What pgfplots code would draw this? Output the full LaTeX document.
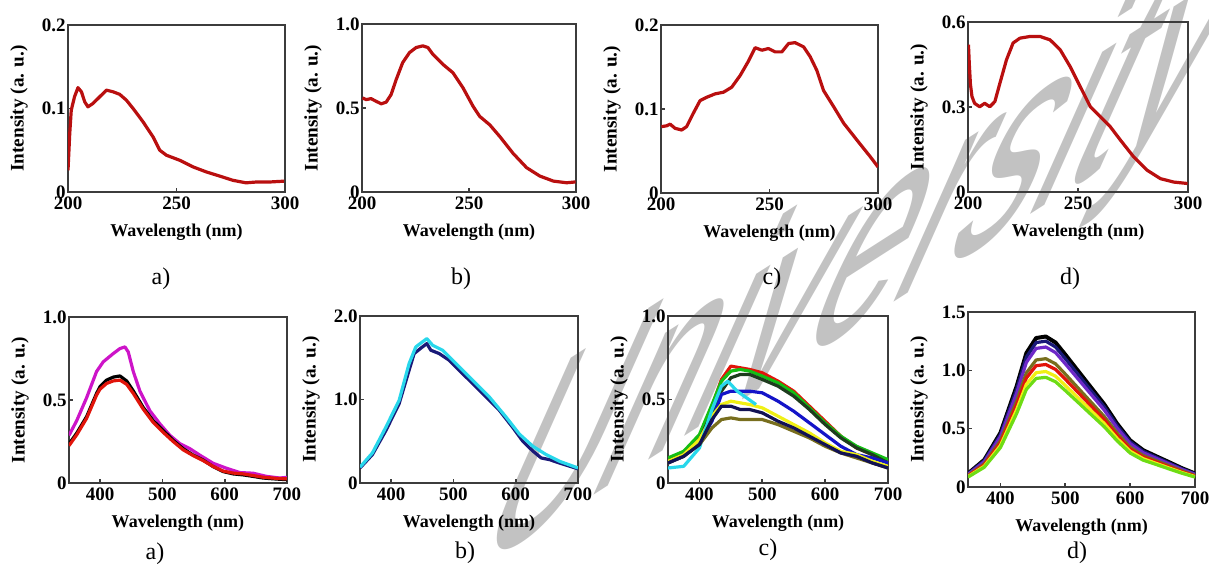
\documentclass[border=0pt]{standalone}
\usepackage{fontspec}
\setmainfont{Liberation Serif}
\newfontfamily\wmfont{Liberation Sans}
\usepackage{pgfplots}
\pgfplotsset{compat=1.18}
\definecolor{cred}{RGB}{185,15,15}
\definecolor{frame}{RGB}{60,60,60}
\definecolor{cmag}{RGB}{205,20,200}
\definecolor{cnavy}{RGB}{25,25,120}
\definecolor{ccyan}{RGB}{40,215,235}
\definecolor{cgreen}{RGB}{20,190,20}
\definecolor{cdkg}{RGB}{30,60,30}
\definecolor{cblue}{RGB}{20,20,200}
\definecolor{cyel}{RGB}{240,240,20}
\definecolor{colive}{RGB}{120,110,30}
\definecolor{cpurp}{RGB}{110,40,200}
\definecolor{cred2}{RGB}{225,20,10}
\definecolor{cgr2}{RGB}{110,220,20}
\pgfplotsset{
  panel/.style={
    scale only axis,
    anchor=north west,
    axis line style={line width=1.2pt, draw=frame},
    tick align=inside,
    major tick length=2pt,
    tick style={line width=0.8pt, draw=frame},
    tick pos=left,
    ticklabel style={font=\fontsize{9.5}{10}\selectfont\bfseries},
    yticklabel style={inner xsep=1pt},
    xticklabel style={inner ysep=2pt},
    xlabel={Wavelength (nm)},
    ylabel={Intensity (a. u.)},
    xlabel style={font=\fontsize{9}{10}\selectfont\bfseries, at={([yshift=-20pt]axis description cs:0.5,0)}, anchor=center},
    ylabel style={font=\fontsize{9.6}{10}\selectfont\bfseries, at={([xshift=-24.5pt]axis description cs:0,0.5)}, anchor=center},
    every axis plot/.append style={line width=1.6pt, line join=round},
  },
  uv/.style={panel, xmin=200, xmax=300, xtick={200,250,300}, xticklabels={200,250,300}, ymin=0},
  pl/.style={panel, xmin=350, xmax=700, xtick={400,500,600,700}, xticklabels={400,500,600,700}, ymin=0},
}
\begin{document}
\begin{tikzpicture}
\path[use as bounding box] (0pt,0pt) rectangle (604.5pt,-285pt);
% watermark
\node[font=\wmfont\fontsize{105}{105}\selectfont, text=black!24, anchor=base west, inner sep=0pt,
      transform shape, cm={0.78,0.50,0.651,1.462,(0,0)}] at (232pt,-289pt) {University};

% ---------- top row ----------
\begin{axis}[uv, at={(34pt,-12.5pt)}, width=108.5pt, height=83.5pt, ymax=0.2, ytick={0,0.1,0.2}, yticklabels={0,0.1,0.2}]
\addplot[cred] coordinates {(200,0.026)(200.8,0.07)(201.5,0.098)(203,0.114)(204.6,0.125)(206.2,0.12)(207.7,0.108)(209.2,0.102)(211.5,0.106)(214.6,0.114)(217.7,0.122)(220.8,0.12)(223.8,0.117)(226.9,0.11)(230,0.1)(234.6,0.084)(239.2,0.066)(242.3,0.05)(245.4,0.044)(251.5,0.038)(257.7,0.03)(263.8,0.024)(270,0.019)(276,0.014)(282,0.011)(286.9,0.012)(293,0.012)(299.6,0.013)};
\end{axis}
\begin{axis}[uv, at={(181pt,-12pt)}, width=107pt, height=84pt, ymax=1.0, ytick={0,0.5,1}, yticklabels={0,0.5,1.0}]
\addplot[cred] coordinates {(200.2,0.56)(202,0.55)(204.2,0.556)(206.6,0.54)(209,0.525)(211.3,0.535)(213.6,0.58)(216,0.67)(219,0.77)(222.2,0.83)(225.3,0.86)(228.4,0.87)(230.8,0.86)(233.1,0.82)(237.8,0.76)(242.5,0.71)(247.2,0.62)(251.9,0.51)(255,0.45)(259.7,0.40)(264.4,0.33)(270.6,0.23)(276.9,0.145)(283.1,0.095)(289.4,0.065)(295.6,0.055)(299.8,0.06)};
\end{axis}
\begin{axis}[uv, at={(330.5pt,-12.5pt)}, width=108.5pt, height=84pt, ymax=0.2, ytick={0,0.1,0.2}, yticklabels={0,0.1,0.2}]
\addplot[cred] coordinates {(200.2,0.079)(202.6,0.08)(204.2,0.082)(206.5,0.077)(209.5,0.075)(211.8,0.079)(214.9,0.095)(218,0.11)(221.1,0.114)(224.9,0.118)(228.8,0.12)(232.6,0.126)(236.5,0.14)(240.3,0.157)(243.4,0.173)(246.5,0.17)(249.5,0.172)(252.6,0.168)(255.7,0.168)(258.8,0.178)(261.8,0.179)(265.7,0.174)(268.8,0.162)(271.8,0.146)(274.9,0.122)(279.5,0.103)(284.2,0.083)(290.3,0.063)(296.5,0.043)(300,0.031)};
\end{axis}
\begin{axis}[uv, at={(484pt,-11pt)}, width=110pt, height=85pt, ymax=0.6, ytick={0,0.3,0.6}, yticklabels={0,0.3,0.6}]
\addplot[cred] coordinates {(200.2,0.52)(200.6,0.45)(201.1,0.38)(201.8,0.337)(203,0.313)(205.3,0.301)(207.6,0.313)(209.9,0.301)(212.2,0.319)(214.5,0.384)(217.5,0.467)(220.5,0.526)(223.6,0.543)(228.2,0.549)(232.7,0.549)(237.3,0.537)(241.9,0.502)(246.4,0.443)(251,0.372)(255.6,0.301)(260.1,0.266)(264.7,0.23)(269.3,0.183)(275.3,0.124)(281.4,0.077)(287.5,0.047)(293.6,0.035)(299.8,0.03)};
\end{axis}

% ---------- bottom row ----------
\begin{axis}[pl, at={(34.5pt,-158.5pt)}, width=109pt, height=83pt, ymax=1.0, ytick={0,0.5,1}, yticklabels={0,0.5,1.0}]
\addplot[cmag] coordinates {(350,0.287)(362.3,0.375)(378.3,0.514)(394.3,0.672)(405,0.73)(421.1,0.78)(431.8,0.81)(439.8,0.82)(445.1,0.79)(453.2,0.672)(463.9,0.553)(479.9,0.435)(496,0.356)(512,0.287)(528,0.237)(544,0.207)(560,0.168)(581.4,0.119)(602.8,0.089)(624.2,0.063)(645.6,0.059)(667,0.04)(688.3,0.03)(700,0.034)};
\addplot[black] coordinates {(350,0.235)(362.3,0.30)(378.3,0.40)(394.3,0.54)(399.7,0.58)(410.4,0.62)(421.1,0.638)(431.8,0.645)(442.5,0.615)(453.2,0.555)(469.2,0.455)(485.2,0.375)(501.3,0.316)(517.3,0.257)(533.3,0.207)(549.4,0.168)(565.4,0.138)(581.4,0.099)(597.5,0.069)(613.5,0.055)(629.5,0.049)(645.6,0.04)(661.6,0.03)(683,0.024)(700,0.02)};
\addplot[cred2] coordinates {(350,0.225)(362.3,0.29)(378.3,0.39)(394.3,0.53)(399.7,0.565)(410.4,0.6)(421.1,0.615)(431.8,0.62)(442.5,0.595)(453.2,0.54)(469.2,0.445)(485.2,0.365)(501.3,0.305)(517.3,0.25)(533.3,0.2)(549.4,0.165)(565.4,0.135)(581.4,0.1)(597.5,0.072)(613.5,0.06)(629.5,0.055)(645.6,0.045)(661.6,0.035)(683,0.028)(700,0.025)};
\end{axis}
\begin{axis}[pl, at={(180pt,-158pt)}, width=109pt, height=83.5pt, ymax=2.0, ytick={0,1,2}, yticklabels={0,1.0,2.0}]
\addplot[cnavy] coordinates {(350,0.18)(369.9,0.34)(391.3,0.625)(412.8,0.95)(428.8,1.35)(436.9,1.55)(450.3,1.63)(457.3,1.67)(463.7,1.59)(477.2,1.55)(493.3,1.47)(509.4,1.35)(530.9,1.19)(552.4,1.03)(573.8,0.87)(595.3,0.665)(611.4,0.5)(627.5,0.383)(640.9,0.30)(654.3,0.28)(670,0.24)(700,0.17)};
\addplot[ccyan] coordinates {(350,0.19)(369.9,0.36)(391.3,0.665)(412.8,0.99)(428.8,1.43)(439.6,1.63)(457.3,1.73)(466.5,1.65)(482.6,1.59)(504,1.43)(530.9,1.23)(557.7,1.03)(584.5,0.79)(606,0.585)(627.5,0.44)(649,0.34)(670.4,0.26)(700,0.18)};
\end{axis}
\begin{axis}[pl, at={(334pt,-158pt)}, width=110pt, height=83.5pt, ymax=1.0, ytick={0,0.5,1}, yticklabels={0,0.5,1.0}]
\addplot[cred2] coordinates {(350,0.14)(375,0.18)(400,0.28)(420,0.46)(435,0.62)(450,0.70)(465,0.69)(480,0.68)(500,0.66)(525,0.61)(550,0.55)(575,0.46)(600,0.37)(625,0.28)(650,0.21)(675,0.17)(700,0.13)};
\addplot[cgreen] coordinates {(350,0.15)(375,0.19)(400,0.29)(420,0.47)(435,0.61)(450,0.67)(465,0.68)(480,0.67)(500,0.64)(525,0.60)(550,0.54)(575,0.45)(600,0.36)(625,0.28)(650,0.22)(675,0.18)(700,0.14)};
\addplot[cdkg] coordinates {(350,0.13)(375,0.17)(400,0.26)(420,0.42)(435,0.55)(450,0.63)(465,0.65)(480,0.65)(500,0.62)(525,0.58)(550,0.52)(575,0.44)(600,0.35)(625,0.27)(650,0.21)(675,0.17)(700,0.12)};
\addplot[cblue] coordinates {(350,0.12)(375,0.16)(400,0.24)(420,0.37)(435,0.53)(450,0.55)(465,0.55)(480,0.55)(500,0.54)(525,0.49)(550,0.43)(575,0.36)(600,0.29)(625,0.22)(650,0.17)(675,0.15)(700,0.12)};
\addplot[cyel] coordinates {(350,0.13)(375,0.17)(400,0.26)(420,0.40)(435,0.47)(450,0.49)(465,0.48)(480,0.47)(500,0.45)(525,0.40)(550,0.35)(575,0.30)(600,0.24)(625,0.19)(650,0.17)(675,0.13)(700,0.10)};
\addplot[ccyan] coordinates {(350,0.09)(375,0.10)(400,0.21)(420,0.44)(435,0.58)(445,0.61)(460,0.55)(475,0.51)(490,0.47)};
\addplot[colive] coordinates {(350,0.12)(375,0.16)(400,0.23)(420,0.33)(435,0.38)(450,0.39)(465,0.38)(480,0.38)(500,0.38)(525,0.35)(550,0.31)(575,0.27)(600,0.22)(625,0.18)(650,0.15)(675,0.12)(700,0.09)};
\addplot[cnavy!70!black] coordinates {(350,0.12)(375,0.16)(400,0.23)(420,0.38)(435,0.46)(450,0.46)(465,0.44)(480,0.44)(500,0.42)(525,0.37)(550,0.33)(575,0.28)(600,0.23)(625,0.18)(650,0.16)(675,0.12)(700,0.09)};
\end{axis}
\begin{axis}[pl, at={(484pt,-156pt)}, width=113.5pt, height=87.5pt, ymax=1.5, ytick={0,0.5,1,1.5}, yticklabels={0,0.5,1.0,1.5}]
\addplot[black, line width=2pt] coordinates {(350,0.116)(375,0.232)(400,0.464)(425,0.864)(440,1.148)(455,1.277)(470,1.29)(485,1.238)(500,1.135)(520,0.993)(540,0.851)(560,0.71)(580,0.542)(600,0.4)(620,0.316)(640,0.264)(660,0.213)(680,0.161)(700,0.116)};
\addplot[cnavy] coordinates {(350,0.113)(375,0.225)(400,0.45)(425,0.838)(440,1.113)(455,1.238)(470,1.25)(485,1.2)(500,1.1)(520,0.963)(540,0.825)(560,0.688)(580,0.525)(600,0.388)(620,0.306)(640,0.256)(660,0.206)(680,0.156)(700,0.113)};
\addplot[cpurp] coordinates {(350,0.108)(375,0.216)(400,0.432)(425,0.804)(440,1.068)(455,1.188)(470,1.2)(485,1.152)(500,1.056)(520,0.924)(540,0.792)(560,0.66)(580,0.504)(600,0.372)(620,0.294)(640,0.246)(660,0.198)(680,0.15)(700,0.108)};
\addplot[colive] coordinates {(350,0.099)(375,0.198)(400,0.396)(425,0.737)(440,0.979)(455,1.089)(470,1.1)(485,1.056)(500,0.968)(520,0.847)(540,0.726)(560,0.605)(580,0.462)(600,0.341)(620,0.27)(640,0.226)(660,0.182)(680,0.138)(700,0.099)};
\addplot[cred2] coordinates {(350,0.095)(375,0.189)(400,0.378)(425,0.704)(440,0.935)(455,1.04)(470,1.05)(485,1.008)(500,0.924)(520,0.809)(540,0.693)(560,0.578)(580,0.441)(600,0.326)(620,0.257)(640,0.215)(660,0.173)(680,0.131)(700,0.095)};
\addplot[cyel] coordinates {(350,0.089)(375,0.178)(400,0.356)(425,0.663)(440,0.881)(455,0.98)(470,0.99)(485,0.95)(500,0.871)(520,0.762)(540,0.653)(560,0.545)(580,0.416)(600,0.307)(620,0.243)(640,0.203)(660,0.163)(680,0.124)(700,0.089)};
\addplot[cgr2] coordinates {(350,0.085)(375,0.169)(400,0.338)(425,0.63)(440,0.837)(455,0.931)(470,0.94)(485,0.902)(500,0.827)(520,0.724)(540,0.62)(560,0.517)(580,0.395)(600,0.291)(620,0.23)(640,0.193)(660,0.155)(680,0.118)(700,0.085)};
\end{axis}

% panel labels
\begin{scope}[every node/.style={font=\fontsize{12}{12}\selectfont, inner sep=0pt}]
\node at (80.5pt,-139.5pt) {a)};
\node at (230.5pt,-139.5pt) {b)};
\node at (386pt,-139.5pt) {c)};
\node at (535pt,-139.5pt) {d)};
\node at (77.5pt,-277pt) {a)};
\node at (232.5pt,-276.5pt) {b)};
\node at (384pt,-275pt) {c)};
\node at (538.5pt,-276.5pt) {d)};
\end{scope}
\end{tikzpicture}
\end{document}
